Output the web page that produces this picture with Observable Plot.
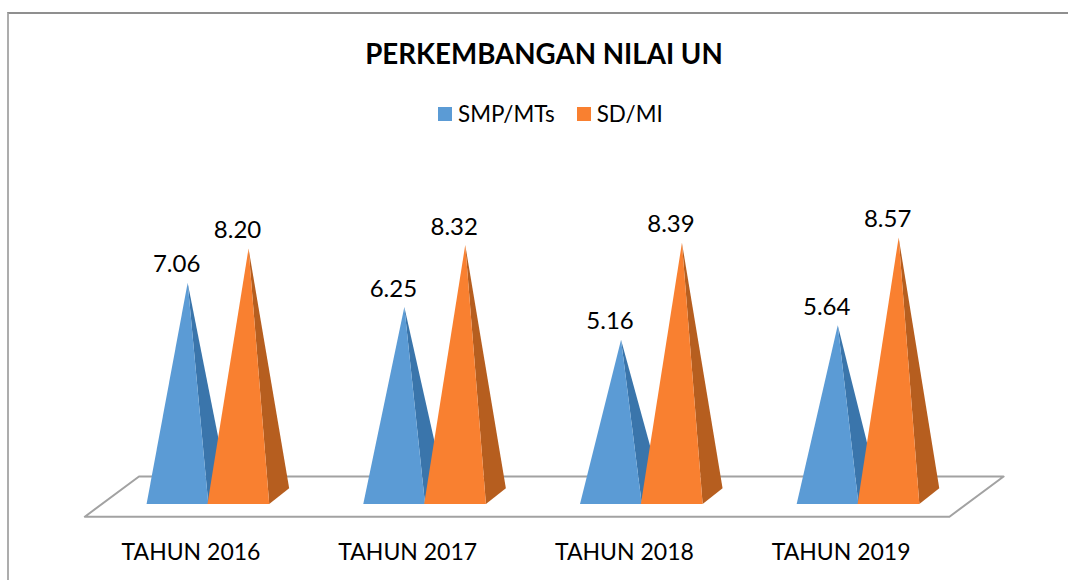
<!DOCTYPE html>
<html><head><meta charset="utf-8">
<script src="https://cdn.jsdelivr.net/npm/d3@7"></script>
<script src="https://cdn.jsdelivr.net/npm/@observablehq/plot@0.6"></script>
<style>
html,body{margin:0;padding:0;background:#fff;overflow:hidden;width:1068px;height:580px}
#page{position:relative;width:1068px;height:580px;font-family:Lato,sans-serif;color:#000;overflow:hidden}
#frame{position:absolute;left:7px;top:12px;width:1061px;height:568px;border-top:2px solid #8f8f8f;border-left:2px solid #adadad;box-sizing:border-box}
#title{position:absolute;left:0;width:1088px;top:36px;text-align:center;font-weight:700;font-size:27.7px;line-height:36px;white-space:nowrap}
#legend{position:absolute;left:438px;top:97px}
#legend svg{margin-right:6px !important}
#legend span{margin-right:22px !important}
#chart{position:absolute;left:0;top:140px}
</style></head><body>
<div id="page"><div id="frame"></div>
<div id="title">PERKEMBANGAN NILAI UN</div>
<div id="legend"></div>
<div id="chart"></div></div>
<script>
const categories = ["TAHUN 2016","TAHUN 2017","TAHUN 2018","TAHUN 2019"];
const seriesNames = ["SMP/MTs","SD/MI"];
const smp = [7.06,6.25,5.16,5.64];
const sd = [8.20,8.32,8.39,8.57];
const valueLabels = [["7.06","6.25","5.16","5.64"],["8.20","8.32","8.39","8.57"]];
const frontColors = ["#5b9bd5","#f98030"];
const sideColors = ["#3a75ab","#b65e1f"];

// geometry of the pseudo-3D cones, in category units (x) and value units (y)
const barW = 0.285, groupLeft = -0.205, apexAt = 0.665;
const depthX = 0.092, depthY = 0.53, frontY = -0.32;
const floor = {x0:-0.49, x1:3.5, skew:0.25, y0:-0.74, y1:0.6};

const rows = [];
[smp, sd].forEach((vals, s) => vals.forEach((v, i) => {
  const left = i + groupLeft + s * (barW - 0.004);
  const right = left + barW;
  const apex = left + barW * apexAt;
  rows.push({s, i, v, apex, label: valueLabels[s][i], series: seriesNames[s],
    front: [[left,frontY],[apex,v],[right,frontY]],
    side: [[apex,v],[right,frontY],[right+depthX,frontY+depthY]]});
}));
const poly = (face, s) => rows.filter(r => r.s === s).flatMap(r =>
  r[face].map(([x,y]) => ({x, y, id: r.i, series: r.series})));
const floorPts = [
  {x:floor.x0,y:floor.y0},{x:floor.x1,y:floor.y0},
  {x:floor.x1+floor.skew,y:floor.y1},{x:floor.x0+floor.skew,y:floor.y1},{x:floor.x0,y:floor.y0}];

const colorOpt = {domain: seriesNames, range: frontColors};
const plot = Plot.plot({
  width:1068, height:440,
  marginLeft:0, marginRight:0, marginTop:0, marginBottom:0,
  style:{fontFamily:"Lato,sans-serif", background:"transparent", overflow:"visible"},
  x:{type:"linear", domain:[-190.5/216.7,(1068-190.5)/216.7], range:[0,1068], axis:null},
  y:{type:"linear", domain:[0,354/30], range:[354,0], axis:null},
  color:colorOpt,
  marks:[
    Plot.line(floorPts,{x:"x",y:"y",fill:"#fff",stroke:"#a2a2a2",strokeWidth:2}),
    ...[0,1].flatMap(s => [
      Plot.line(poly("side",s),{x:"x",y:"y",z:"id",fill:sideColors[s],stroke:"none"}),
      Plot.line(poly("front",s),{x:"x",y:"y",z:"id",fill:"series",stroke:"none"})
    ]),
    Plot.text(rows,{x:"apex",y:"v",text:"label",dx:-11,dy:-18,fontSize:24,fill:"#000"}),
    Plot.text(categories,{x:(d,i)=>i,y:()=>-1.94,text:d=>d,fontSize:23,fill:"#000"})
  ]
});
document.getElementById("chart").append(plot);
const lg = Plot.legend({color:colorOpt, swatchSize:14, swatchWidth:14, swatchHeight:14, columns:null, style:{fontFamily:"Lato,sans-serif",fontSize:"22.4px",color:"#000",margin:0}});
document.getElementById("legend").append(lg);
</script></body></html>
